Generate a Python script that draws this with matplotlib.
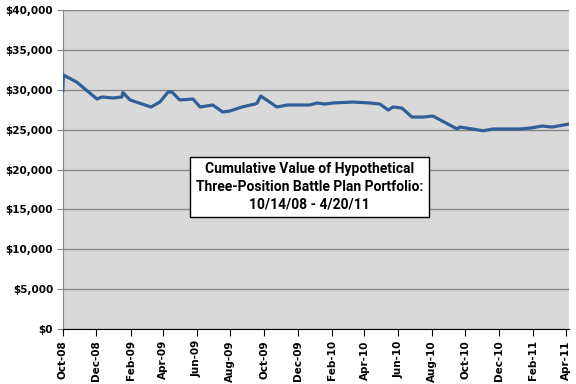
import matplotlib
matplotlib.use("Agg")
import matplotlib.pyplot as plt
import matplotlib.dates as mdates
import matplotlib.ticker as mticker
import pandas as pd

# portfolio value
dates = ["2008-10-14", "2008-10-15", "2008-11-08", "2008-12-15", "2008-12-24",
         "2009-01-13", "2009-01-29", "2009-01-31", "2009-02-13", "2009-03-23",
         "2009-04-08", "2009-04-23", "2009-04-30", "2009-05-14", "2009-06-07",
         "2009-06-20", "2009-07-13", "2009-07-31", "2009-08-13", "2009-09-04",
         "2009-09-27", "2009-10-01", "2009-10-08", "2009-11-06", "2009-11-26",
         "2010-01-05", "2010-01-18", "2010-02-01", "2010-02-16", "2010-03-24",
         "2010-04-24", "2010-05-12", "2010-05-27", "2010-06-05", "2010-06-21",
         "2010-07-09", "2010-07-29", "2010-08-16", "2010-09-29", "2010-10-04",
         "2010-11-15", "2010-12-03", "2011-01-21", "2011-02-09", "2011-03-02",
         "2011-03-20", "2011-04-20"]
values = [29850, 31850, 30970, 28840, 29090,
          28970, 29090, 29650, 28720, 27840,
          28460, 29720, 29720, 28720, 28840,
          27840, 28090, 27210, 27340, 27840,
          28210, 28300, 29220, 27840, 28090,
          28090, 28340, 28210, 28340, 28460,
          28340, 28210, 27460, 27840, 27710,
          26580, 26580, 26710, 25080, 25330,
          24860, 25080, 25080, 25200, 25450,
          25330, 25700]

box_text = "Cumulative Value of Hypothetical\nThree-Position Battle Plan Portfolio:\n10/14/08 - 4/20/11"

x = pd.to_datetime(dates)
start = pd.Timestamp("2008-10-14")
end = pd.Timestamp("2011-04-20")
tick_dates = pd.date_range(start, end, freq=pd.DateOffset(months=2))

fig = plt.figure(figsize=(5.76, 3.84), dpi=100)
ax = fig.add_axes([0.109, 0.143, 0.879, 0.831])
ax.set_facecolor("#d9d9d9")

ax.plot(x, values, color="#2f5f98", lw=2.3, solid_joinstyle="round", zorder=3)

ax.set_ylim(0, 40000)
ax.set_xlim(start, end)
ax.yaxis.set_major_locator(mticker.MultipleLocator(5000))
ax.yaxis.set_major_formatter(mticker.FuncFormatter(lambda v, p: "${:,.0f}".format(v)))
ax.set_xticks(tick_dates)
ax.xaxis.set_major_formatter(mdates.DateFormatter("%b-%y"))
ax.grid(axis="y", color="#868686", lw=1.0, zorder=1)
ax.set_axisbelow(True)

for lab in ax.get_yticklabels():
    lab.set_fontweight("bold")
    lab.set_fontsize(7.5)
for lab in ax.get_xticklabels():
    lab.set_fontweight("bold")
    lab.set_fontsize(7.5)
    lab.set_rotation(90)

ax.tick_params(axis="y", length=4, color="#868686", pad=3)
ax.tick_params(axis="x", length=5, color="black", pad=3)
ax.spines["top"].set_visible(False)
ax.spines["right"].set_visible(False)
ax.spines["left"].set_color("#868686")
ax.spines["bottom"].set_color("black")

ax.text(0.487, 0.446, box_text, transform=ax.transAxes, ha="center", va="center",
        fontsize=10, fontweight="bold", family="Roboto", linespacing=1.3,
        bbox=dict(boxstyle="square,pad=0.4", fc="white", ec="black", lw=1))

fig.savefig("out.png", dpi=100)
